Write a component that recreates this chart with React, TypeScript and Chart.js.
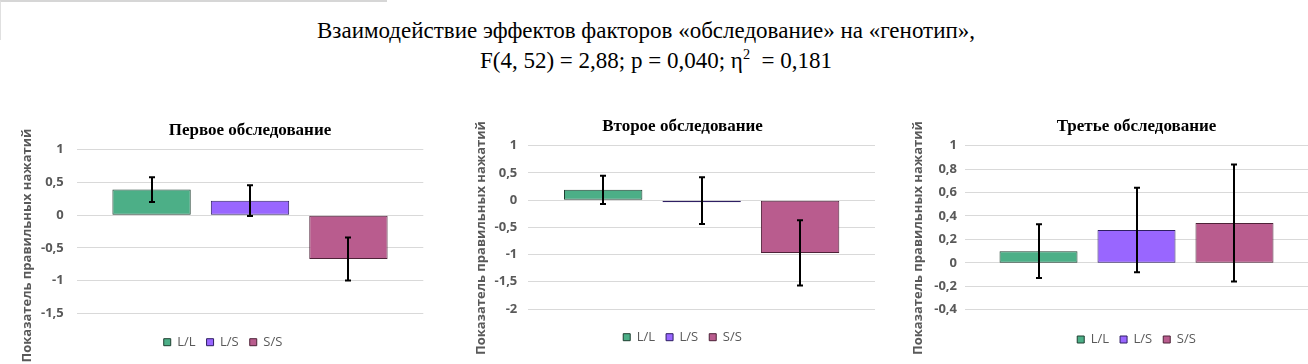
import React, { useEffect, useRef } from 'react';
import { Chart, registerables } from 'chart.js';

Chart.register(...registerables);

// ---------- data ----------
const genotypes = ['L/L', 'L/S', 'S/S'];
const panelTitles = ['Первое обследование', 'Второе обследование', 'Третье обследование'];
const yAxisTitle = 'Показатель правильных нажатий';
const mainTitleLine1 = 'Взаимодействие эффектов факторов «обследование» на «генотип»,';
const mainTitleLine2a = 'F(4, 52) = 2,88; p = 0,040; η';
const mainTitleLine2sup = '2';
const mainTitleLine2b = '  = 0,181';

const firstMeans = [0.39, 0.22, -0.67];
const firstErrors = [0.19, 0.235, 0.33];
const secondMeans = [0.19, -0.01, -0.97];
const secondErrors = [0.26, 0.43, 0.6];
const thirdMeans = [0.1, 0.28, 0.34];
const thirdErrors = [0.23, 0.36, 0.5];

const yMins = [-1.5, -2, -0.4];
const yMaxs = [1, 1, 1];
const ySteps = [0.5, 0.5, 0.2];

// ---------- styles ----------
const fills = ['#4caf87', '#9966ff', '#b95c8e'];
const borders = ['#1f3f31', '#2e1f63', '#4e2238'];
const gridColor = '#d9d9d9';
const textGray = '#595959';

const panelLayouts = [
  { left: 0, width: 440, pad: { left: 22.7, right: 16.7, top: 0, bottom: 5.3 }, yWidth: 54, tickPad: 13, titlePad: { top: 20, bottom: 9.3 }, titleFull: false, legendFull: true, xGap: 11.4, yTitleX: 27, yTitleY: 145.5, catPct: 0.852 },
  { left: 440, width: 441, pad: { left: 50, right: 6, top: 0, bottom: 10.3 }, yWidth: 38.3, tickPad: 11, titlePad: { top: 16, bottom: 9.3 }, titleFull: true, legendFull: true, xGap: 10.7, yTitleX: 41.7, yTitleY: 138, catPct: 0.852 },
  { left: 880, width: 428, pad: { left: 40, right: 0, top: 0, bottom: 8 }, yWidth: 45, tickPad: 8, titlePad: { top: 16, bottom: 9.3 }, titleFull: false, legendFull: false, xGap: 12.3, yTitleX: 38, yTitleY: 138, catPct: 0.857 },
];

const panelMeans = [firstMeans, secondMeans, thirdMeans];
const panelErrors = [firstErrors, secondErrors, thirdErrors];

const fmt = (v: number) => String(Number(v.toFixed(2))).replace('.', ',').replace(/^-0$/, '0');

function errorBarPlugin(errors: number[]) {
  return {
    id: 'errorBars',
    afterDatasetsDraw(chart: any) {
      const ctx = chart.ctx;
      const y = chart.scales.y;
      ctx.save();
      ctx.strokeStyle = '#000';
      ctx.lineWidth = 2;
      chart.data.datasets.forEach((ds: any, i: number) => {
        const meta = chart.getDatasetMeta(i);
        const bar = meta.data[0];
        if (!bar) return;
        const v = ds.data[0] as number;
        const e = errors[i];
        const top = y.getPixelForValue(v + e);
        const bot = y.getPixelForValue(v - e);
        const x = Math.round(bar.x);
        ctx.beginPath();
        ctx.moveTo(x, top);
        ctx.lineTo(x, bot);
        ctx.moveTo(x - 3, top);
        ctx.lineTo(x + 3, top);
        ctx.moveTo(x - 3, bot);
        ctx.lineTo(x + 3, bot);
        ctx.stroke();
      });
      ctx.restore();
    },
  };
}

function yTitlePlugin(text: string, x: number, y: number) {
  return {
    id: 'yTitleCustom',
    afterDraw(chart: any) {
      const ctx = chart.ctx;
      ctx.save();
      ctx.translate(x, y);
      ctx.rotate(-Math.PI / 2);
      ctx.font = 'bold 13px "Open Sans"';
      ctx.fillStyle = textGray;
      ctx.textAlign = 'center';
      ctx.textBaseline = 'middle';
      ctx.fillText(text, 0, 0);
      ctx.restore();
    },
  };
}

function Panel({ idx }: { idx: number }) {
  const ref = useRef<HTMLCanvasElement>(null);
  const lay = panelLayouts[idx];
  useEffect(() => {
    if (!ref.current) return;
    const means = panelMeans[idx];
    const errors = panelErrors[idx];
    const chart = new Chart(ref.current, {
      type: 'bar',
      data: {
        labels: [''],
        datasets: genotypes.map((g, i) => ({
          label: g,
          data: [means[i]],
          backgroundColor: fills[i],
          borderColor: borders[i],
          borderWidth: 1,
          borderSkipped: false,
          minBarLength: 2,
          categoryPercentage: lay.catPct,
          barPercentage: 0.796,
        })),
      },
      options: {
        responsive: false,
        animation: false,
        layout: { padding: lay.pad },
        plugins: {
          title: {
            display: true,
            text: panelTitles[idx],
            color: '#000',
            font: { family: '"Liberation Serif", "Times New Roman", serif', size: 17, weight: 'bold' },
            padding: lay.titlePad,
            fullSize: lay.titleFull,
          },
          legend: {
            position: 'bottom',
            fullSize: lay.legendFull,
            labels: {
              boxWidth: 7,
              boxHeight: 7,
              padding: 11,
              color: textGray,
              font: { family: '"Open Sans"', size: 13 },
            },
          },
          tooltip: { enabled: false },
        },
        scales: {
          x: {
            display: true,
            grid: { display: false },
            border: { display: false },
            ticks: { display: false },
            afterFit: (s: any) => { s.height = lay.xGap; },
          },
          y: {
            min: yMins[idx],
            max: yMaxs[idx],
            ticks: {
              stepSize: ySteps[idx],
              padding: lay.tickPad,
              color: textGray,
              font: { family: '"Open Sans"', size: 13, weight: 'bold' },
              callback: (v: any) => fmt(Number(v)),
            },
            grid: { color: gridColor, lineWidth: 1, drawTicks: false },
            border: { display: false },
            afterFit: (s: any) => { s.width = lay.yWidth; },
          },
        },
      } as any,
      plugins: [errorBarPlugin(errors), yTitlePlugin(yAxisTitle, lay.yTitleX, lay.yTitleY)],
    } as any);
    return () => chart.destroy();
  }, [idx]);
  return (
    <canvas
      ref={ref}
      width={lay.width}
      height={264}
      style={{ position: 'absolute', left: lay.left, top: 100, width: lay.width, height: 264 }}
    />
  );
}

export default function App() {
  const serif = '"Liberation Serif", "Times New Roman", serif';
  return (
    <div style={{ position: 'fixed', left: 0, top: 0, width: 1308, height: 364, background: '#fff', overflow: 'hidden' }}>
      <div style={{ position: 'absolute', left: 0, top: 0, width: 387, height: 40, borderTop: '2px solid #d6d6d6', borderLeft: '1px solid #e0e0e0', boxSizing: 'border-box' }} />
      <div style={{ position: 'absolute', left: 146, top: 18.5, width: 1000, textAlign: 'center', fontFamily: serif, fontSize: 23, lineHeight: '23px', color: '#000', whiteSpace: 'pre' }}>
        {mainTitleLine1}
      </div>
      <div style={{ position: 'absolute', left: 156, top: 48.5, width: 1000, textAlign: 'center', fontFamily: serif, fontSize: 23, lineHeight: '23px', color: '#000', whiteSpace: 'pre' }}>
        {mainTitleLine2a}
        <sup style={{ fontSize: '0.62em', lineHeight: 0 }}>{mainTitleLine2sup}</sup>
        {mainTitleLine2b}
      </div>
      {panelLayouts.map((_, i) => (
        <Panel key={i} idx={i} />
      ))}
    </div>
  );
}
